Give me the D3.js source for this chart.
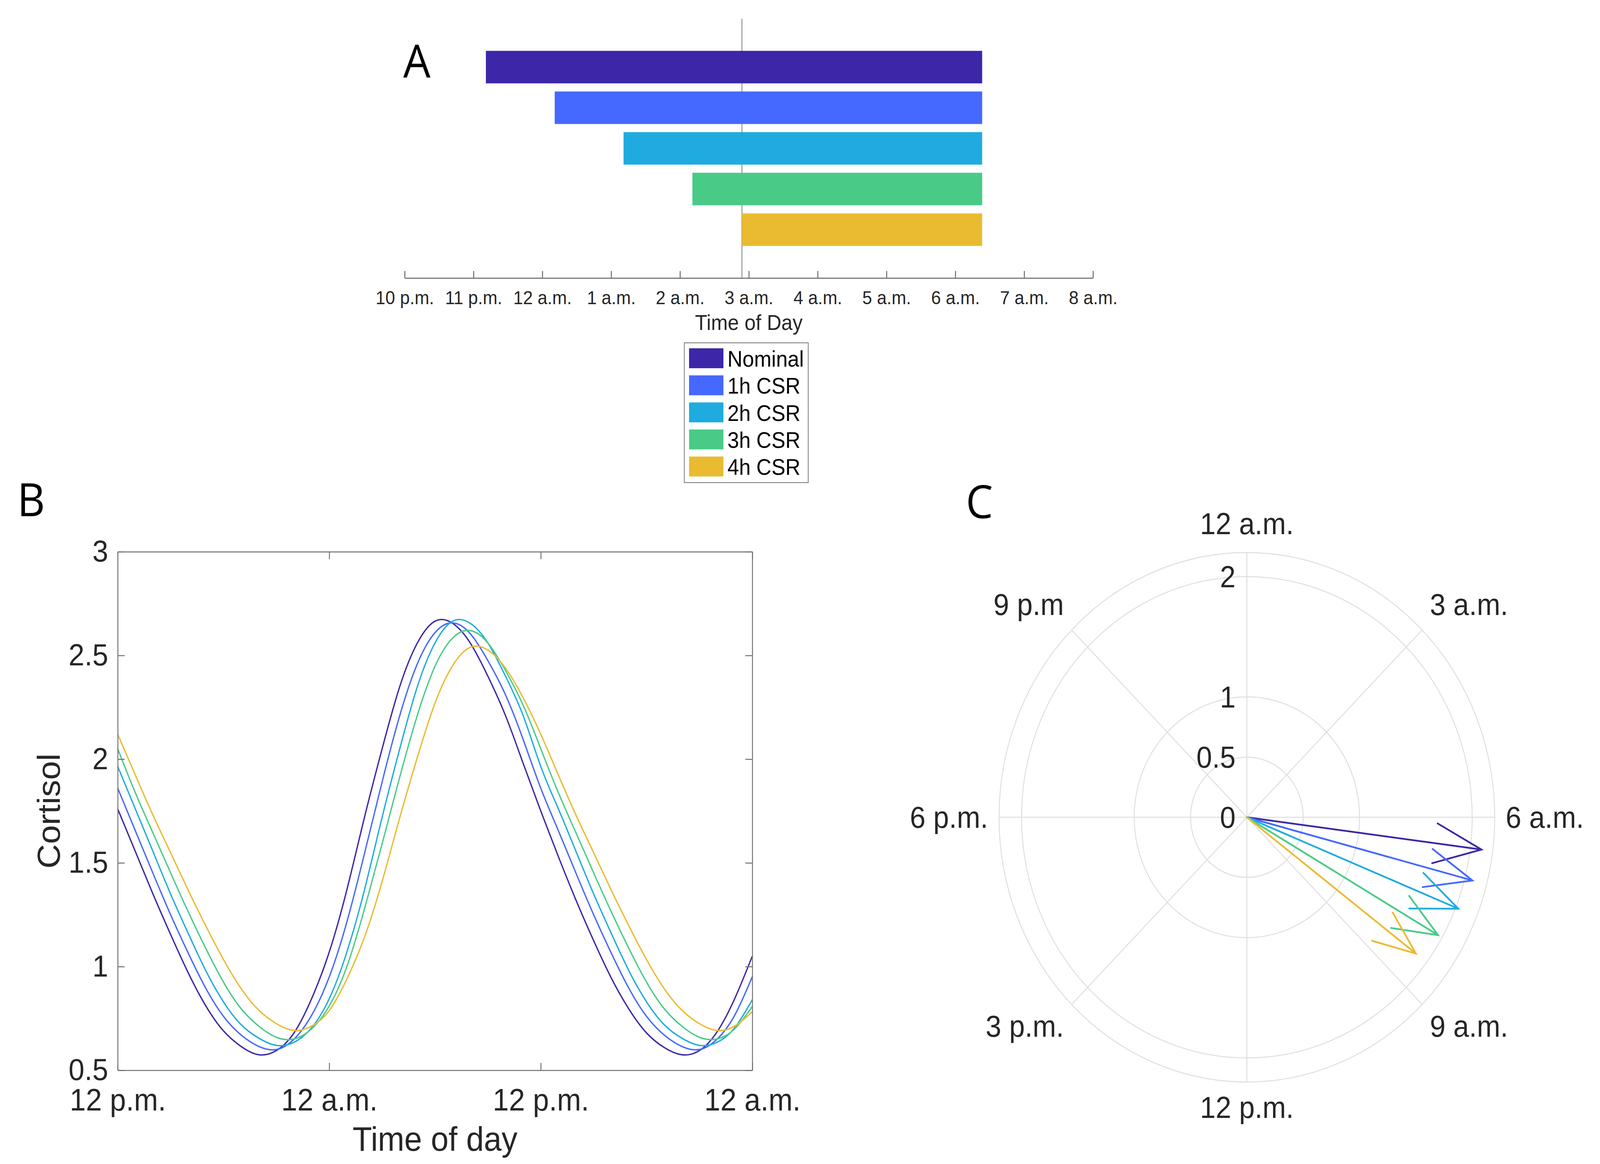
<!DOCTYPE html>
<html><head><meta charset="utf-8">
<script src="https://cdn.jsdelivr.net/npm/d3@7"></script>
<style>html,body{margin:0;padding:0;background:#fff;overflow:hidden;width:100%;height:100%;} svg{display:block;width:100vw;height:100vh;}</style>
</head><body>
<svg id="fig" viewBox="0 0 4377 2981" preserveAspectRatio="none"></svg>
<script>
// ================= DATA =================
const seriesNames  = ["Nominal", "1h CSR", "2h CSR", "3h CSR", "4h CSR"];
const seriesColors = ["#3D27A8", "#4568FE", "#1FABE0", "#49CB87", "#EABB31"];

// Panel A: sleep windows in clock hours (22 = 10 p.m., 24 = 12 a.m., 30 = 6 a.m.)
const sleepStart  = [23.18, 24.18, 25.18, 26.18, 26.9];
const sleepEnd    = [30.39, 30.39, 30.39, 30.39, 30.39];
const refLineHour = 26.9;
const aTickValues = [22, 23, 24, 25, 26, 27, 28, 29, 30, 31, 32];
const aTickLabels = ["10 p.m.", "11 p.m.", "12 a.m.", "1 a.m.", "2 a.m.", "3 a.m.", "4 a.m.", "5 a.m.", "6 a.m.", "7 a.m.", "8 a.m."];

// Panel B: cortisol, hours since 12 p.m.
const timeHours = [0,1,2,3,4,5,6,7,8,9,10,11,12,13,14,15,16,17,18,19,20,21,22,23,24,25,26,27,28,29,30,31,32,33,34,35,36];
const cortNominal = [1.76,1.555,1.35,1.155,0.97,0.81,0.69,0.615,0.575,0.595,0.68,0.845,1.07,1.37,1.72,2.05,2.35,2.56,2.665,2.655,2.56,2.40,2.21,1.98,1.75,1.53,1.32,1.125,0.945,0.795,0.68,0.61,0.575,0.595,0.685,0.845,1.05];
const cort1h = [1.86,1.655,1.45,1.25,1.065,0.895,0.76,0.67,0.615,0.60,0.65,0.765,0.95,1.215,1.545,1.89,2.21,2.46,2.61,2.657,2.605,2.475,2.31,2.095,1.86,1.655,1.45,1.25,1.065,0.895,0.76,0.67,0.615,0.60,0.65,0.765,0.951];
const cort2h = [1.965,1.76,1.555,1.35,1.16,0.98,0.83,0.72,0.655,0.62,0.635,0.705,0.845,1.07,1.37,1.72,2.05,2.35,2.56,2.665,2.655,2.56,2.40,2.21,1.965,1.76,1.555,1.35,1.16,0.98,0.83,0.72,0.655,0.62,0.635,0.705,0.84];
const cort3h = [2.05,1.838,1.644,1.452,1.264,1.087,0.925,0.797,0.713,0.659,0.651,0.70,0.81,1.00,1.278,1.592,1.914,2.212,2.448,2.584,2.62,2.56,2.427,2.26,2.05,1.838,1.644,1.452,1.264,1.087,0.925,0.797,0.713,0.659,0.651,0.70,0.807];
const cort4h = [2.12,1.923,1.73,1.549,1.368,1.196,1.034,0.894,0.79,0.725,0.692,0.713,0.788,0.94,1.142,1.41,1.718,2.009,2.27,2.451,2.539,2.526,2.439,2.296,2.12,1.923,1.73,1.549,1.368,1.196,1.034,0.894,0.79,0.725,0.692,0.713,0.782];
const bTickValues = [0, 12, 24, 36];
const bTickLabels = ["12 p.m.", "12 a.m.", "12 p.m.", "12 a.m."];
const yTickValues = [0.5, 1, 1.5, 2, 2.5, 3];
const yTickLabels = ["0.5", "1", "1.5", "2", "2.5", "3"];

// Panel C: amplitude and peak phase (clock hour)
const amplitude = [2.10, 2.07, 2.025, 1.96, 1.88];
const peakClock = [6.49, 6.98, 7.47, 8.0, 8.47];
const rTickValues = [0, 0.5, 1, 2];
const rTickLabels = ["0", "0.5", "1", "2"];
const rGridValues = [0.5, 1, 2, 2.2];
const rMax = 2.2;
const thetaTickValues = [0, 3, 6, 9, 12, 15, 18, 21];
const thetaTickLabels = ["12 a.m.", "3 a.m.", "6 a.m.", "9 a.m.", "12 p.m.", "3 p.m.", "6 p.m.", "9 p.m"];

// ================= DRAWING =================
const FONT = "'Liberation Sans', Arial, Helvetica, sans-serif";
const PFONT = "'Open Sans', 'Liberation Sans', sans-serif";
const TXT = "#262626";
const svg = d3.select("#fig");
svg.append("rect").attr("width", 4377).attr("height", 2981).attr("fill", "#fff");

function styleAxis(g, color, width, fs) {
  g.attr("font-family", FONT).attr("font-size", fs);
  g.selectAll("path.domain").attr("stroke", color).attr("stroke-width", width);
  g.selectAll(".tick line").attr("stroke", color).attr("stroke-width", width);
  g.selectAll(".tick text").attr("fill", TXT);
}

// Panel letters
svg.append("text").attr("x", 1103).attr("y", 199).text("A")
  .attr("font-family", PFONT).attr("font-size", 118).attr("fill", "#000");
svg.append("text").attr("x", 47).attr("y", 1322).text("B")
  .attr("font-family", PFONT).attr("font-size", 118).attr("fill", "#000");
svg.append("text").attr("x", 2642).attr("y", 1327).text("C")
  .attr("font-family", PFONT).attr("font-size", 118).attr("fill", "#000");

// ---------- Panel A ----------
const aX = d3.scaleLinear().domain([22, 32]).range([1107, 2990]);
const aY = d3.scaleBand().domain(seriesNames).range([48, 712]).paddingInner(0.2).paddingOuter(0.79);
const gA = svg.append("g");
gA.append("line").attr("x1", aX(refLineHour)).attr("x2", aX(refLineHour))
  .attr("y1", 48).attr("y2", 712).attr("stroke", "#808080").attr("stroke-width", 2.2);
gA.selectAll("rect.bar").data(seriesNames).join("rect").attr("class", "bar")
  .attr("x", (d, i) => aX(sleepStart[i]))
  .attr("width", (d, i) => aX(sleepEnd[i]) - aX(sleepStart[i]))
  .attr("y", d => aY(d)).attr("height", aY.bandwidth())
  .attr("fill", (d, i) => seriesColors[i]);
const axA = gA.append("g").attr("transform", "translate(0,712)")
  .call(d3.axisBottom(aX).tickValues(aTickValues).tickFormat((d, i) => aTickLabels[i])
    .tickSizeInner(-18).tickSizeOuter(0).tickPadding(33));
styleAxis(axA, "#7a7a7a", 3, 48);
gA.append("text").attr("x", (aX(22) + aX(32)) / 2).attr("y", 845).attr("text-anchor", "middle")
  .attr("font-family", FONT).attr("font-size", 55).attr("fill", TXT).text("Time of Day");

// Legend
const gL = svg.append("g");
gL.append("rect").attr("x", 1872).attr("y", 878).attr("width", 339).attr("height", 358)
  .attr("fill", "#fff").attr("stroke", "#777").attr("stroke-width", 2);
const lg = gL.selectAll("g.item").data(seriesNames).join("g").attr("class", "item")
  .attr("transform", (d, i) => `translate(1885,${892 + i * 69.3})`);
lg.append("rect").attr("width", 94).attr("height", 51).attr("fill", (d, i) => seriesColors[i]);
lg.append("text").attr("x", 105).attr("y", 47).text(d => d)
  .attr("font-family", FONT).attr("font-size", 57).attr("fill", "#000");

// ---------- Panel B ----------
const bX = d3.scaleLinear().domain([0, 36]).range([322, 2058]);
const bY = d3.scaleLinear().domain([0.5, 3]).range([2741, 1413]);
const gB = svg.append("g");
const cortSeries = [cortNominal, cort1h, cort2h, cort3h, cort4h];
const lineB = d3.line().x((d, i) => bX(timeHours[i])).y(d => bY(d)).curve(d3.curveNatural);
gB.selectAll("path.cort").data(cortSeries).join("path").attr("class", "cort")
  .attr("d", d => lineB(d)).attr("fill", "none")
  .attr("stroke", (d, i) => seriesColors[i]).attr("stroke-width", 3.6);
const BOX = "#6f6f6f";
const axB1 = gB.append("g").attr("transform", "translate(0,2741)")
  .call(d3.axisBottom(bX).tickValues(bTickValues).tickFormat((d, i) => bTickLabels[i])
    .tickSizeInner(-19).tickSizeOuter(0).tickPadding(47));
styleAxis(axB1, BOX, 2.5, 79);
const axB2 = gB.append("g").attr("transform", "translate(0,1413)")
  .call(d3.axisTop(bX).tickValues(bTickValues).tickFormat(() => "").tickSizeInner(-19).tickSizeOuter(0));
styleAxis(axB2, BOX, 2.5, 79);
const axB3 = gB.append("g").attr("transform", "translate(322,0)")
  .call(d3.axisLeft(bY).tickValues(yTickValues).tickFormat((d, i) => yTickLabels[i])
    .tickSizeInner(-19).tickSizeOuter(0).tickPadding(26));
styleAxis(axB3, BOX, 2.5, 78);
const axB4 = gB.append("g").attr("transform", "translate(2058,0)")
  .call(d3.axisRight(bY).tickValues(yTickValues).tickFormat(() => "").tickSizeInner(-19).tickSizeOuter(0));
styleAxis(axB4, BOX, 2.5, 78);
gB.append("text").attr("x", (bX(0) + bX(36)) / 2).attr("y", 2947).attr("text-anchor", "middle")
  .attr("font-family", FONT).attr("font-size", 87).attr("fill", TXT).text("Time of day");
gB.append("text").attr("transform", `translate(163,${(bY(0.5) + bY(3)) / 2}) rotate(-90)`)
  .attr("text-anchor", "middle").attr("font-family", FONT).attr("font-size", 87)
  .attr("fill", TXT).text("Cortisol");

// ---------- Panel C ----------
const cx = 3411, cy = 2093, R = 678;
const rS = d3.scaleLinear().domain([0, rMax]).range([0, R]);
const thS = d3.scaleLinear().domain([0, 24]).range([0, 2 * Math.PI]);
const pX = d3.scaleLinear().domain([-rMax, rMax]).range([cx - R, cx + R]);
const pY = d3.scaleLinear().domain([-rMax, rMax]).range([cy + R, cy - R]);
const gC = svg.append("g");
const GRID = "#dedede";
gC.selectAll("circle.rg").data(rGridValues).join("circle").attr("class", "rg")
  .attr("cx", cx).attr("cy", cy).attr("r", d => rS(d))
  .attr("fill", "none").attr("stroke", GRID).attr("stroke-width", 2.5);
gC.selectAll("line.spoke").data(thetaTickValues).join("line").attr("class", "spoke")
  .attr("x1", cx).attr("y1", cy)
  .attr("x2", d => pX(rMax * Math.sin(thS(d))))
  .attr("y2", d => pY(rMax * Math.cos(thS(d))))
  .attr("stroke", GRID).attr("stroke-width", 2.5);
// r tick labels
gC.selectAll("text.rt").data(rTickValues).join("text").attr("class", "rt")
  .attr("x", cx - 31).attr("y", d => cy - rS(d)).attr("dy", "0.35em")
  .attr("text-anchor", "end").attr("font-family", FONT).attr("font-size", 77)
  .attr("fill", TXT).text((d, i) => rTickLabels[i]);
// theta tick labels
const labR = R + 30;
gC.selectAll("text.tt").data(thetaTickValues).join("text").attr("class", "tt")
  .each(function (d, i) {
    const a = thS(d), s = Math.sin(a), c = Math.cos(a);
    const x = cx + labR * s, y = cy - labR * c;
    const anchor = s > 0.1 ? "start" : (s < -0.1 ? "end" : "middle");
    let by;
    if (c > 0.1) by = y - 0.22 * 77;
    else if (c < -0.1) by = y + 0.8 * 77;
    else by = y + 0.35 * 77;
    d3.select(this).attr("x", x).attr("y", by).attr("text-anchor", anchor)
      .attr("font-family", FONT).attr("font-size", 77).attr("fill", TXT)
      .text(thetaTickLabels[i]);
  });
// compass arrows
const arrowLine = d3.line().x(p => pX(p[0])).y(p => pY(p[1]));
const arrowPts = amplitude.map((m, i) => {
  const a = thS(peakClock[i]);
  const X = m * Math.sin(a), Y = m * Math.cos(a);
  const px = -Y, py = X;
  return [[0, 0], [X, Y], [0.8 * X + 0.08 * px, 0.8 * Y + 0.08 * py], [X, Y], [0.8 * X - 0.08 * px, 0.8 * Y - 0.08 * py]];
});
gC.selectAll("path.arrow").data(arrowPts).join("path").attr("class", "arrow")
  .attr("d", d => arrowLine(d)).attr("fill", "none")
  .attr("stroke", (d, i) => seriesColors[i]).attr("stroke-width", 4.5)
  .attr("stroke-linejoin", "miter").attr("stroke-linecap", "round");
</script>
</body></html>
